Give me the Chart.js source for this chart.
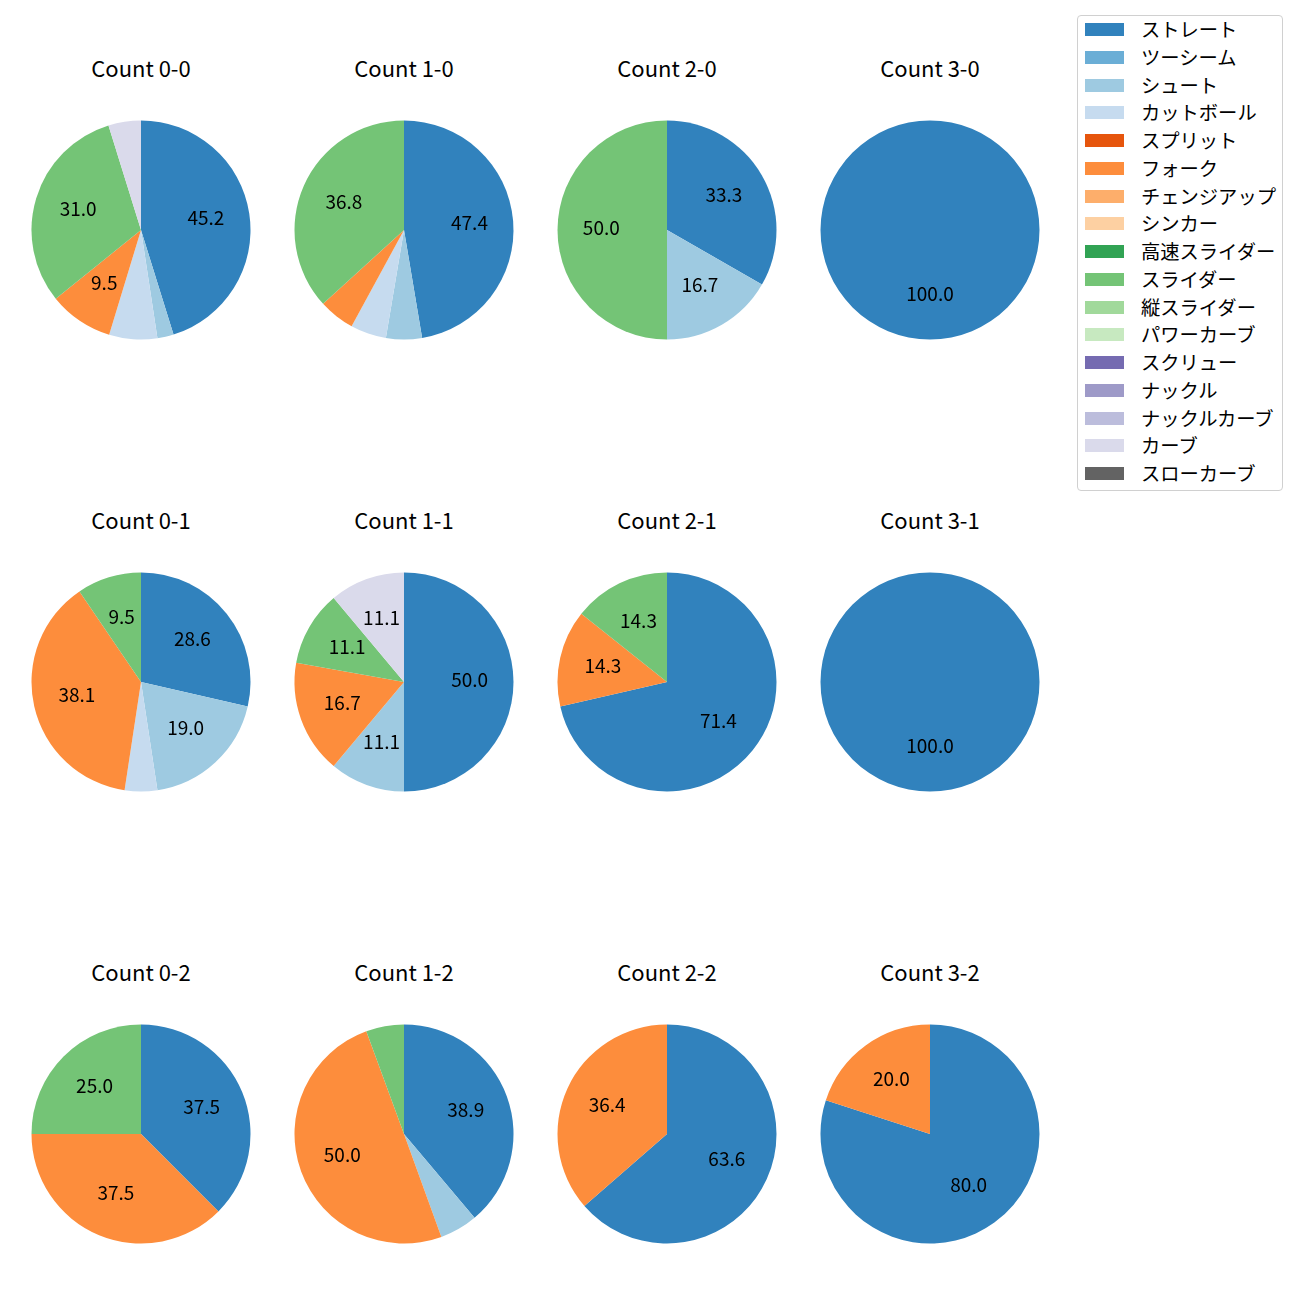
<!DOCTYPE html>
<html>
<head>
<meta charset="utf-8">
<script src="https://cdn.jsdelivr.net/npm/chart.js@4/dist/chart.umd.min.js"></script>
<style>
  body { margin: 0; background: #fff; font-family: "Noto Sans CJK JP", "Noto Sans", sans-serif; }
  #wrap { position: relative; width: 1300px; height: 1300px; }
  .pie { position: absolute; width: 240px; height: 240px; }
  .title { position: absolute; width: 240px; text-align: center; font-size: 22px; line-height: 30px; color: #000; }
  #legend { position: absolute; left: 1077px; top: 15px; width: 204px; height: 474px; border: 1px solid #d0d0d0; border-radius: 4px; background: rgba(255,255,255,0.8); }
  .row { position: absolute; left: 0; height: 28px; }
  .sw { position: absolute; left: 7px; top: 7px; width: 39px; height: 13px; }
  .lab { position: absolute; left: 63px; top: -1px; font-size: 19.3px; line-height: 28px; color: #000; white-space: nowrap; }
</style>
</head>
<body>
<div id="wrap">
  <div id="legend"></div>
</div>
<script>
// pitch types and tab20c colours
const pitchTypes = ['ストレート', 'ツーシーム', 'シュート', 'カットボール', 'スプリット', 'フォーク', 'チェンジアップ', 'シンカー',
  '高速スライダー', 'スライダー', '縦スライダー', 'パワーカーブ', 'スクリュー', 'ナックル', 'ナックルカーブ', 'カーブ', 'スローカーブ'];
const pitchColors = ['#3182bd', '#6baed6', '#9ecae1', '#c6dbef', '#e6550d', '#fd8d3c', '#fdae6b', '#fdd0a2',
  '#31a354', '#74c476', '#a1d99b', '#c7e9c0', '#756bb1', '#9e9ac8', '#bcbddc', '#dadaeb', '#636363'];

const countLabels = ['Count 0-0', 'Count 1-0', 'Count 2-0', 'Count 3-0',
  'Count 0-1', 'Count 1-1', 'Count 2-1', 'Count 3-1',
  'Count 0-2', 'Count 1-2', 'Count 2-2', 'Count 3-2'];

// share (%) per count, in the order of countLabels
const straight = [45.2, 47.4, 33.3, 100, 28.6, 50.0, 71.4, 100, 37.5, 38.9, 63.6, 80.0];
const shoot    = [2.4, 5.3, 16.7, 0, 19.0, 11.1, 0, 0, 0, 5.6, 0, 0];
const cutter   = [7.1, 5.3, 0, 0, 4.8, 0, 0, 0, 0, 0, 0, 0];
const fork     = [9.5, 5.3, 0, 0, 38.1, 16.7, 14.3, 0, 37.5, 50.0, 36.4, 20.0];
const slider   = [31.0, 36.8, 50.0, 0, 9.5, 11.1, 14.3, 0, 25.0, 5.6, 0, 0];
const curve    = [4.8, 0, 0, 0, 0, 11.1, 0, 0, 0, 0, 0, 0];

const seriesByType = {
  'ストレート': straight, 'シュート': shoot, 'カットボール': cutter,
  'フォーク': fork, 'スライダー': slider, 'カーブ': curve
};

const colX = [141, 404, 667, 930];
const rowY = [230, 682, 1134];

// percentage labels inside the slices (like autopct)
const pctLabels = {
  id: 'pctLabels',
  afterDatasetsDraw(chart) {
    const ctx = chart.ctx;
    const meta = chart.getDatasetMeta(0);
    const data = chart.data.datasets[0].data;
    ctx.save();
    ctx.font = '19px "Noto Sans CJK JP", sans-serif';
    ctx.fillStyle = '#000';
    ctx.textAlign = 'center';
    ctx.textBaseline = 'middle';
    meta.data.forEach((arc, i) => {
      const v = data[i];
      if (v < 8) return;
      const mid = (arc.startAngle + arc.endAngle) / 2;
      const r = arc.outerRadius * 0.6;
      ctx.fillText(v.toFixed(1), arc.x + Math.cos(mid) * r, arc.y + Math.sin(mid) * r - 2);
    });
    ctx.restore();
  }
};

const wrap = document.getElementById('wrap');

countLabels.forEach((label, k) => {
  const cx = colX[k % 4];
  const cy = rowY[Math.floor(k / 4)];

  const t = document.createElement('div');
  t.className = 'title';
  t.textContent = label;
  t.style.left = (cx - 120) + 'px';
  t.style.top = (cy - 163 - 15) + 'px';
  wrap.appendChild(t);

  const c = document.createElement('canvas');
  c.className = 'pie';
  c.width = 240;
  c.height = 240;
  c.style.left = (cx - 120) + 'px';
  c.style.top = (cy - 120) + 'px';
  wrap.appendChild(c);

  const labels = [];
  const values = [];
  const colors = [];
  pitchTypes.forEach((p, i) => {
    const s = seriesByType[p];
    if (s && s[k] > 0) {
      labels.push(p);
      values.push(s[k]);
      colors.push(pitchColors[i]);
    }
  });

  new Chart(c.getContext('2d'), {
    type: 'pie',
    data: {
      labels: labels,
      datasets: [{ data: values, backgroundColor: colors, borderWidth: 0, hoverOffset: 0, offset: 0 }]
    },
    options: {
      responsive: false,
      animation: false,
      devicePixelRatio: 1,
      layout: { padding: 10.5 },
      plugins: { legend: { display: false }, tooltip: { enabled: false }, title: { display: false } }
    },
    plugins: [pctLabels]
  });
});

// legend
const legend = document.getElementById('legend');
pitchTypes.forEach((p, i) => {
  const row = document.createElement('div');
  row.className = 'row';
  row.style.top = (i * 27.75) + 'px';
  const sw = document.createElement('div');
  sw.className = 'sw';
  sw.style.background = pitchColors[i];
  const lab = document.createElement('div');
  lab.className = 'lab';
  lab.textContent = p;
  row.appendChild(sw);
  row.appendChild(lab);
  legend.appendChild(row);
});
</script>
</body>
</html>
